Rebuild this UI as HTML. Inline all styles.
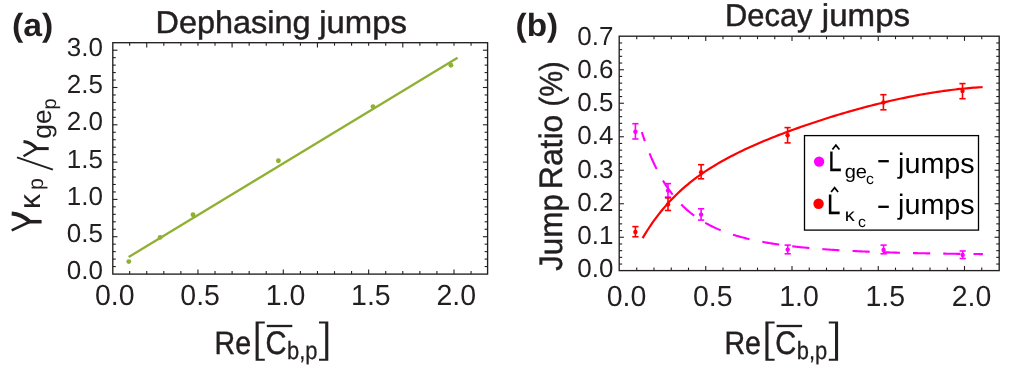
<!DOCTYPE html>
<html><head><meta charset="utf-8"><title>Jumps</title>
<style>
html,body{margin:0;padding:0;background:#fff;}
svg{display:block;font-family:"Liberation Sans", sans-serif;will-change:transform;text-rendering:geometricPrecision;}
</style></head>
<body>
<svg width="1017" height="369" viewBox="0 0 1017 369">
<rect width="1017" height="369" fill="#ffffff"/>
<rect x="112.80" y="42.70" width="374.80" height="231.40" fill="none" stroke="#231f20" stroke-width="1.35"/>
<line x1="129.67" y1="274.10" x2="129.67" y2="271.12" stroke="#231f20" stroke-width="1.1" />
<line x1="146.74" y1="274.10" x2="146.74" y2="271.12" stroke="#231f20" stroke-width="1.1" />
<line x1="163.81" y1="274.10" x2="163.81" y2="271.12" stroke="#231f20" stroke-width="1.1" />
<line x1="180.88" y1="274.10" x2="180.88" y2="271.12" stroke="#231f20" stroke-width="1.1" />
<line x1="197.95" y1="274.10" x2="197.95" y2="269.43" stroke="#231f20" stroke-width="1.1" />
<line x1="215.02" y1="274.10" x2="215.02" y2="271.12" stroke="#231f20" stroke-width="1.1" />
<line x1="232.09" y1="274.10" x2="232.09" y2="271.12" stroke="#231f20" stroke-width="1.1" />
<line x1="249.16" y1="274.10" x2="249.16" y2="271.12" stroke="#231f20" stroke-width="1.1" />
<line x1="266.23" y1="274.10" x2="266.23" y2="271.12" stroke="#231f20" stroke-width="1.1" />
<line x1="283.30" y1="274.10" x2="283.30" y2="269.43" stroke="#231f20" stroke-width="1.1" />
<line x1="300.37" y1="274.10" x2="300.37" y2="271.12" stroke="#231f20" stroke-width="1.1" />
<line x1="317.44" y1="274.10" x2="317.44" y2="271.12" stroke="#231f20" stroke-width="1.1" />
<line x1="334.51" y1="274.10" x2="334.51" y2="271.12" stroke="#231f20" stroke-width="1.1" />
<line x1="351.58" y1="274.10" x2="351.58" y2="271.12" stroke="#231f20" stroke-width="1.1" />
<line x1="368.65" y1="274.10" x2="368.65" y2="269.43" stroke="#231f20" stroke-width="1.1" />
<line x1="385.72" y1="274.10" x2="385.72" y2="271.12" stroke="#231f20" stroke-width="1.1" />
<line x1="402.79" y1="274.10" x2="402.79" y2="271.12" stroke="#231f20" stroke-width="1.1" />
<line x1="419.86" y1="274.10" x2="419.86" y2="271.12" stroke="#231f20" stroke-width="1.1" />
<line x1="436.93" y1="274.10" x2="436.93" y2="271.12" stroke="#231f20" stroke-width="1.1" />
<line x1="454.00" y1="274.10" x2="454.00" y2="269.43" stroke="#231f20" stroke-width="1.1" />
<line x1="471.07" y1="274.10" x2="471.07" y2="271.12" stroke="#231f20" stroke-width="1.1" />
<line x1="129.67" y1="42.70" x2="129.67" y2="45.67" stroke="#231f20" stroke-width="1.1" />
<line x1="146.74" y1="42.70" x2="146.74" y2="47.38" stroke="#231f20" stroke-width="1.1" />
<line x1="163.81" y1="42.70" x2="163.81" y2="45.67" stroke="#231f20" stroke-width="1.1" />
<line x1="180.88" y1="42.70" x2="180.88" y2="45.67" stroke="#231f20" stroke-width="1.1" />
<line x1="197.95" y1="42.70" x2="197.95" y2="45.67" stroke="#231f20" stroke-width="1.1" />
<line x1="215.02" y1="42.70" x2="215.02" y2="45.67" stroke="#231f20" stroke-width="1.1" />
<line x1="232.09" y1="42.70" x2="232.09" y2="47.38" stroke="#231f20" stroke-width="1.1" />
<line x1="249.16" y1="42.70" x2="249.16" y2="45.67" stroke="#231f20" stroke-width="1.1" />
<line x1="266.23" y1="42.70" x2="266.23" y2="45.67" stroke="#231f20" stroke-width="1.1" />
<line x1="283.30" y1="42.70" x2="283.30" y2="45.67" stroke="#231f20" stroke-width="1.1" />
<line x1="300.37" y1="42.70" x2="300.37" y2="45.67" stroke="#231f20" stroke-width="1.1" />
<line x1="317.44" y1="42.70" x2="317.44" y2="47.38" stroke="#231f20" stroke-width="1.1" />
<line x1="334.51" y1="42.70" x2="334.51" y2="45.67" stroke="#231f20" stroke-width="1.1" />
<line x1="351.58" y1="42.70" x2="351.58" y2="45.67" stroke="#231f20" stroke-width="1.1" />
<line x1="368.65" y1="42.70" x2="368.65" y2="45.67" stroke="#231f20" stroke-width="1.1" />
<line x1="385.72" y1="42.70" x2="385.72" y2="45.67" stroke="#231f20" stroke-width="1.1" />
<line x1="402.79" y1="42.70" x2="402.79" y2="47.38" stroke="#231f20" stroke-width="1.1" />
<line x1="419.86" y1="42.70" x2="419.86" y2="45.67" stroke="#231f20" stroke-width="1.1" />
<line x1="436.93" y1="42.70" x2="436.93" y2="45.67" stroke="#231f20" stroke-width="1.1" />
<line x1="454.00" y1="42.70" x2="454.00" y2="45.67" stroke="#231f20" stroke-width="1.1" />
<line x1="471.07" y1="42.70" x2="471.07" y2="45.67" stroke="#231f20" stroke-width="1.1" />
<line x1="112.80" y1="266.54" x2="115.77" y2="266.54" stroke="#231f20" stroke-width="1.1" />
<line x1="487.60" y1="266.54" x2="484.62" y2="266.54" stroke="#231f20" stroke-width="1.1" />
<line x1="112.80" y1="259.08" x2="115.77" y2="259.08" stroke="#231f20" stroke-width="1.1" />
<line x1="487.60" y1="259.08" x2="484.62" y2="259.08" stroke="#231f20" stroke-width="1.1" />
<line x1="112.80" y1="251.62" x2="115.77" y2="251.62" stroke="#231f20" stroke-width="1.1" />
<line x1="487.60" y1="251.62" x2="484.62" y2="251.62" stroke="#231f20" stroke-width="1.1" />
<line x1="112.80" y1="244.16" x2="115.77" y2="244.16" stroke="#231f20" stroke-width="1.1" />
<line x1="487.60" y1="244.16" x2="484.62" y2="244.16" stroke="#231f20" stroke-width="1.1" />
<line x1="112.80" y1="236.70" x2="117.47" y2="236.70" stroke="#231f20" stroke-width="1.1" />
<line x1="487.60" y1="236.70" x2="482.93" y2="236.70" stroke="#231f20" stroke-width="1.1" />
<line x1="112.80" y1="229.24" x2="115.77" y2="229.24" stroke="#231f20" stroke-width="1.1" />
<line x1="487.60" y1="229.24" x2="484.62" y2="229.24" stroke="#231f20" stroke-width="1.1" />
<line x1="112.80" y1="221.78" x2="115.77" y2="221.78" stroke="#231f20" stroke-width="1.1" />
<line x1="487.60" y1="221.78" x2="484.62" y2="221.78" stroke="#231f20" stroke-width="1.1" />
<line x1="112.80" y1="214.32" x2="115.77" y2="214.32" stroke="#231f20" stroke-width="1.1" />
<line x1="487.60" y1="214.32" x2="484.62" y2="214.32" stroke="#231f20" stroke-width="1.1" />
<line x1="112.80" y1="206.86" x2="115.77" y2="206.86" stroke="#231f20" stroke-width="1.1" />
<line x1="487.60" y1="206.86" x2="484.62" y2="206.86" stroke="#231f20" stroke-width="1.1" />
<line x1="112.80" y1="199.40" x2="117.47" y2="199.40" stroke="#231f20" stroke-width="1.1" />
<line x1="487.60" y1="199.40" x2="482.93" y2="199.40" stroke="#231f20" stroke-width="1.1" />
<line x1="112.80" y1="191.94" x2="115.77" y2="191.94" stroke="#231f20" stroke-width="1.1" />
<line x1="487.60" y1="191.94" x2="484.62" y2="191.94" stroke="#231f20" stroke-width="1.1" />
<line x1="112.80" y1="184.48" x2="115.77" y2="184.48" stroke="#231f20" stroke-width="1.1" />
<line x1="487.60" y1="184.48" x2="484.62" y2="184.48" stroke="#231f20" stroke-width="1.1" />
<line x1="112.80" y1="177.02" x2="115.77" y2="177.02" stroke="#231f20" stroke-width="1.1" />
<line x1="487.60" y1="177.02" x2="484.62" y2="177.02" stroke="#231f20" stroke-width="1.1" />
<line x1="112.80" y1="169.56" x2="115.77" y2="169.56" stroke="#231f20" stroke-width="1.1" />
<line x1="487.60" y1="169.56" x2="484.62" y2="169.56" stroke="#231f20" stroke-width="1.1" />
<line x1="112.80" y1="162.10" x2="117.47" y2="162.10" stroke="#231f20" stroke-width="1.1" />
<line x1="487.60" y1="162.10" x2="482.93" y2="162.10" stroke="#231f20" stroke-width="1.1" />
<line x1="112.80" y1="154.64" x2="115.77" y2="154.64" stroke="#231f20" stroke-width="1.1" />
<line x1="487.60" y1="154.64" x2="484.62" y2="154.64" stroke="#231f20" stroke-width="1.1" />
<line x1="112.80" y1="147.18" x2="115.77" y2="147.18" stroke="#231f20" stroke-width="1.1" />
<line x1="487.60" y1="147.18" x2="484.62" y2="147.18" stroke="#231f20" stroke-width="1.1" />
<line x1="112.80" y1="139.72" x2="115.77" y2="139.72" stroke="#231f20" stroke-width="1.1" />
<line x1="487.60" y1="139.72" x2="484.62" y2="139.72" stroke="#231f20" stroke-width="1.1" />
<line x1="112.80" y1="132.26" x2="115.77" y2="132.26" stroke="#231f20" stroke-width="1.1" />
<line x1="487.60" y1="132.26" x2="484.62" y2="132.26" stroke="#231f20" stroke-width="1.1" />
<line x1="112.80" y1="124.80" x2="117.47" y2="124.80" stroke="#231f20" stroke-width="1.1" />
<line x1="487.60" y1="124.80" x2="482.93" y2="124.80" stroke="#231f20" stroke-width="1.1" />
<line x1="112.80" y1="117.34" x2="115.77" y2="117.34" stroke="#231f20" stroke-width="1.1" />
<line x1="487.60" y1="117.34" x2="484.62" y2="117.34" stroke="#231f20" stroke-width="1.1" />
<line x1="112.80" y1="109.88" x2="115.77" y2="109.88" stroke="#231f20" stroke-width="1.1" />
<line x1="487.60" y1="109.88" x2="484.62" y2="109.88" stroke="#231f20" stroke-width="1.1" />
<line x1="112.80" y1="102.42" x2="115.77" y2="102.42" stroke="#231f20" stroke-width="1.1" />
<line x1="487.60" y1="102.42" x2="484.62" y2="102.42" stroke="#231f20" stroke-width="1.1" />
<line x1="112.80" y1="94.96" x2="115.77" y2="94.96" stroke="#231f20" stroke-width="1.1" />
<line x1="487.60" y1="94.96" x2="484.62" y2="94.96" stroke="#231f20" stroke-width="1.1" />
<line x1="112.80" y1="87.50" x2="117.47" y2="87.50" stroke="#231f20" stroke-width="1.1" />
<line x1="487.60" y1="87.50" x2="482.93" y2="87.50" stroke="#231f20" stroke-width="1.1" />
<line x1="112.80" y1="80.04" x2="115.77" y2="80.04" stroke="#231f20" stroke-width="1.1" />
<line x1="487.60" y1="80.04" x2="484.62" y2="80.04" stroke="#231f20" stroke-width="1.1" />
<line x1="112.80" y1="72.58" x2="115.77" y2="72.58" stroke="#231f20" stroke-width="1.1" />
<line x1="487.60" y1="72.58" x2="484.62" y2="72.58" stroke="#231f20" stroke-width="1.1" />
<line x1="112.80" y1="65.12" x2="115.77" y2="65.12" stroke="#231f20" stroke-width="1.1" />
<line x1="487.60" y1="65.12" x2="484.62" y2="65.12" stroke="#231f20" stroke-width="1.1" />
<line x1="112.80" y1="57.66" x2="115.77" y2="57.66" stroke="#231f20" stroke-width="1.1" />
<line x1="487.60" y1="57.66" x2="484.62" y2="57.66" stroke="#231f20" stroke-width="1.1" />
<line x1="112.80" y1="50.20" x2="117.47" y2="50.20" stroke="#231f20" stroke-width="1.1" />
<line x1="487.60" y1="50.20" x2="482.93" y2="50.20" stroke="#231f20" stroke-width="1.1" />
<text x="103.00" y="279.40" font-size="26" text-anchor="end" font-weight="normal" fill="#231f20" >0.0</text>
<text x="103.00" y="242.10" font-size="26" text-anchor="end" font-weight="normal" fill="#231f20" >0.5</text>
<text x="103.00" y="204.80" font-size="26" text-anchor="end" font-weight="normal" fill="#231f20" >1.0</text>
<text x="103.00" y="167.50" font-size="26" text-anchor="end" font-weight="normal" fill="#231f20" >1.5</text>
<text x="103.00" y="130.20" font-size="26" text-anchor="end" font-weight="normal" fill="#231f20" >2.0</text>
<text x="103.00" y="92.90" font-size="26" text-anchor="end" font-weight="normal" fill="#231f20" >2.5</text>
<text x="103.00" y="55.60" font-size="26" text-anchor="end" font-weight="normal" fill="#231f20" >3.0</text>
<text x="114.80" y="305.30" font-size="29" text-anchor="middle" font-weight="normal" fill="#231f20" textLength="39.6" lengthAdjust="spacingAndGlyphs" >0.0</text>
<text x="200.15" y="305.30" font-size="29" text-anchor="middle" font-weight="normal" fill="#231f20" textLength="39.6" lengthAdjust="spacingAndGlyphs" >0.5</text>
<text x="285.50" y="305.30" font-size="29" text-anchor="middle" font-weight="normal" fill="#231f20" textLength="39.6" lengthAdjust="spacingAndGlyphs" >1.0</text>
<text x="370.85" y="305.30" font-size="29" text-anchor="middle" font-weight="normal" fill="#231f20" textLength="39.6" lengthAdjust="spacingAndGlyphs" >1.5</text>
<text x="456.20" y="305.30" font-size="29" text-anchor="middle" font-weight="normal" fill="#231f20" textLength="39.6" lengthAdjust="spacingAndGlyphs" >2.0</text>
<line x1="128.60" y1="257.10" x2="457.60" y2="57.80" stroke="#8fb032" stroke-width="2.3" stroke-linecap="butt"/>
<circle cx="128.8" cy="261.6" r="2.45" fill="#8fb032"/>
<circle cx="160.1" cy="237.4" r="2.45" fill="#8fb032"/>
<circle cx="193.0" cy="214.8" r="2.45" fill="#8fb032"/>
<circle cx="278.4" cy="160.8" r="2.45" fill="#8fb032"/>
<circle cx="373.0" cy="106.6" r="2.45" fill="#8fb032"/>
<circle cx="450.9" cy="65.2" r="2.45" fill="#8fb032"/>
<text x="155.52" y="32.70" font-size="31.5" text-anchor="start" font-weight="normal" fill="#231f20" textLength="155.05" lengthAdjust="spacingAndGlyphs" stroke="#231f20" stroke-width="0.45">Dephasing</text>
<text x="319.22" y="32.70" font-size="31.5" text-anchor="start" font-weight="normal" fill="#231f20" textLength="87.73" lengthAdjust="spacingAndGlyphs" stroke="#231f20" stroke-width="0.45">jumps</text>
<text x="12.01" y="36.40" font-size="32" text-anchor="start" font-weight="bold" fill="#231f20" textLength="41.27" lengthAdjust="spacingAndGlyphs" >(a)</text>
<text x="214.60" y="353.60" font-size="32.5" text-anchor="start" font-weight="normal" fill="#231f20" textLength="36.5" lengthAdjust="spacingAndGlyphs" stroke="#231f20" stroke-width="0.45">Re</text>
<path d="M264.80,321.5 H255.60 V360.8 H264.80 V358.8 H258.70 V323.5 H264.80 Z" fill="#231f20"/>
<path d="M319.00,321.5 H328.30 V360.8 H319.00 V358.8 H325.20 V323.5 H319.00 Z" fill="#231f20"/>
<text x="265.40" y="353.60" font-size="32.5" text-anchor="start" font-weight="normal" fill="#231f20" textLength="21.0" lengthAdjust="spacingAndGlyphs" stroke="#231f20" stroke-width="0.45">C</text>
<line x1="266.80" y1="326.00" x2="292.30" y2="326.00" stroke="#231f20" stroke-width="2.3" />
<text x="287.00" y="359.30" font-size="25" text-anchor="start" font-weight="normal" fill="#231f20" textLength="30.5" lengthAdjust="spacingAndGlyphs" stroke="#231f20" stroke-width="0.3">b,p</text>
<path d="M11.7,213.5 Q21.80,214.30 29.70,221.7" fill="none" stroke="#231f20" stroke-width="3.8"/>
<path d="M11.7,230.4 L29.70,221.7" fill="none" stroke="#231f20" stroke-width="2.7"/>
<path d="M27.90,221.7 L41.6,221.7" fill="none" stroke="#231f20" stroke-width="3.5"/>
<g transform="translate(40.10,209.10) rotate(-90)">
<text x="0.00" y="0.00" font-size="30" text-anchor="start" font-weight="normal" fill="#231f20" >κ</text>
</g>
<g transform="translate(42.70,190.00) rotate(-90)">
<text x="0.00" y="0.00" font-size="21.5" text-anchor="start" font-weight="normal" fill="#231f20" >p</text>
</g>
<line x1="52.90" y1="169.60" x2="17.00" y2="157.30" stroke="#231f20" stroke-width="1.9" />
<path d="M23.5,141.5 Q31.15,142.30 36.60,148.6" fill="none" stroke="#231f20" stroke-width="3.2"/>
<path d="M23.5,156.3 L36.60,148.6" fill="none" stroke="#231f20" stroke-width="2.3"/>
<path d="M34.80,148.6 L48.7,148.6" fill="none" stroke="#231f20" stroke-width="3.0"/>
<g transform="translate(51.00,138.70) rotate(-90)">
<text x="0.00" y="0.00" font-size="26.4" text-anchor="start" font-weight="normal" fill="#231f20" >ge</text>
</g>
<g transform="translate(55.70,109.50) rotate(-90)">
<text x="0.00" y="0.00" font-size="20" text-anchor="start" font-weight="normal" fill="#231f20" >p</text>
</g>
<rect x="619.20" y="36.20" width="380.00" height="234.40" fill="none" stroke="#231f20" stroke-width="1.35"/>
<line x1="636.75" y1="270.60" x2="636.75" y2="267.62" stroke="#231f20" stroke-width="1.1" />
<line x1="654.00" y1="270.60" x2="654.00" y2="267.62" stroke="#231f20" stroke-width="1.1" />
<line x1="671.25" y1="270.60" x2="671.25" y2="267.62" stroke="#231f20" stroke-width="1.1" />
<line x1="688.50" y1="270.60" x2="688.50" y2="267.62" stroke="#231f20" stroke-width="1.1" />
<line x1="705.75" y1="270.60" x2="705.75" y2="265.93" stroke="#231f20" stroke-width="1.1" />
<line x1="723.00" y1="270.60" x2="723.00" y2="267.62" stroke="#231f20" stroke-width="1.1" />
<line x1="740.25" y1="270.60" x2="740.25" y2="267.62" stroke="#231f20" stroke-width="1.1" />
<line x1="757.50" y1="270.60" x2="757.50" y2="267.62" stroke="#231f20" stroke-width="1.1" />
<line x1="774.75" y1="270.60" x2="774.75" y2="267.62" stroke="#231f20" stroke-width="1.1" />
<line x1="792.00" y1="270.60" x2="792.00" y2="265.93" stroke="#231f20" stroke-width="1.1" />
<line x1="809.25" y1="270.60" x2="809.25" y2="267.62" stroke="#231f20" stroke-width="1.1" />
<line x1="826.50" y1="270.60" x2="826.50" y2="267.62" stroke="#231f20" stroke-width="1.1" />
<line x1="843.75" y1="270.60" x2="843.75" y2="267.62" stroke="#231f20" stroke-width="1.1" />
<line x1="861.00" y1="270.60" x2="861.00" y2="267.62" stroke="#231f20" stroke-width="1.1" />
<line x1="878.25" y1="270.60" x2="878.25" y2="265.93" stroke="#231f20" stroke-width="1.1" />
<line x1="895.50" y1="270.60" x2="895.50" y2="267.62" stroke="#231f20" stroke-width="1.1" />
<line x1="912.75" y1="270.60" x2="912.75" y2="267.62" stroke="#231f20" stroke-width="1.1" />
<line x1="930.00" y1="270.60" x2="930.00" y2="267.62" stroke="#231f20" stroke-width="1.1" />
<line x1="947.25" y1="270.60" x2="947.25" y2="267.62" stroke="#231f20" stroke-width="1.1" />
<line x1="964.50" y1="270.60" x2="964.50" y2="265.93" stroke="#231f20" stroke-width="1.1" />
<line x1="981.75" y1="270.60" x2="981.75" y2="267.62" stroke="#231f20" stroke-width="1.1" />
<line x1="636.75" y1="36.20" x2="636.75" y2="39.17" stroke="#231f20" stroke-width="1.1" />
<line x1="654.00" y1="36.20" x2="654.00" y2="39.17" stroke="#231f20" stroke-width="1.1" />
<line x1="671.25" y1="36.20" x2="671.25" y2="39.17" stroke="#231f20" stroke-width="1.1" />
<line x1="688.50" y1="36.20" x2="688.50" y2="39.17" stroke="#231f20" stroke-width="1.1" />
<line x1="705.75" y1="36.20" x2="705.75" y2="40.88" stroke="#231f20" stroke-width="1.1" />
<line x1="723.00" y1="36.20" x2="723.00" y2="39.17" stroke="#231f20" stroke-width="1.1" />
<line x1="740.25" y1="36.20" x2="740.25" y2="39.17" stroke="#231f20" stroke-width="1.1" />
<line x1="757.50" y1="36.20" x2="757.50" y2="39.17" stroke="#231f20" stroke-width="1.1" />
<line x1="774.75" y1="36.20" x2="774.75" y2="39.17" stroke="#231f20" stroke-width="1.1" />
<line x1="792.00" y1="36.20" x2="792.00" y2="40.88" stroke="#231f20" stroke-width="1.1" />
<line x1="809.25" y1="36.20" x2="809.25" y2="39.17" stroke="#231f20" stroke-width="1.1" />
<line x1="826.50" y1="36.20" x2="826.50" y2="39.17" stroke="#231f20" stroke-width="1.1" />
<line x1="843.75" y1="36.20" x2="843.75" y2="39.17" stroke="#231f20" stroke-width="1.1" />
<line x1="861.00" y1="36.20" x2="861.00" y2="39.17" stroke="#231f20" stroke-width="1.1" />
<line x1="878.25" y1="36.20" x2="878.25" y2="40.88" stroke="#231f20" stroke-width="1.1" />
<line x1="895.50" y1="36.20" x2="895.50" y2="39.17" stroke="#231f20" stroke-width="1.1" />
<line x1="912.75" y1="36.20" x2="912.75" y2="39.17" stroke="#231f20" stroke-width="1.1" />
<line x1="930.00" y1="36.20" x2="930.00" y2="39.17" stroke="#231f20" stroke-width="1.1" />
<line x1="947.25" y1="36.20" x2="947.25" y2="39.17" stroke="#231f20" stroke-width="1.1" />
<line x1="964.50" y1="36.20" x2="964.50" y2="40.88" stroke="#231f20" stroke-width="1.1" />
<line x1="981.75" y1="36.20" x2="981.75" y2="39.17" stroke="#231f20" stroke-width="1.1" />
<line x1="619.20" y1="264.05" x2="622.17" y2="264.05" stroke="#231f20" stroke-width="1.1" />
<line x1="999.20" y1="264.05" x2="996.23" y2="264.05" stroke="#231f20" stroke-width="1.1" />
<line x1="619.20" y1="257.35" x2="622.17" y2="257.35" stroke="#231f20" stroke-width="1.1" />
<line x1="999.20" y1="257.35" x2="996.23" y2="257.35" stroke="#231f20" stroke-width="1.1" />
<line x1="619.20" y1="250.65" x2="622.17" y2="250.65" stroke="#231f20" stroke-width="1.1" />
<line x1="999.20" y1="250.65" x2="996.23" y2="250.65" stroke="#231f20" stroke-width="1.1" />
<line x1="619.20" y1="243.95" x2="622.17" y2="243.95" stroke="#231f20" stroke-width="1.1" />
<line x1="999.20" y1="243.95" x2="996.23" y2="243.95" stroke="#231f20" stroke-width="1.1" />
<line x1="619.20" y1="237.25" x2="623.88" y2="237.25" stroke="#231f20" stroke-width="1.1" />
<line x1="999.20" y1="237.25" x2="994.53" y2="237.25" stroke="#231f20" stroke-width="1.1" />
<line x1="619.20" y1="230.55" x2="622.17" y2="230.55" stroke="#231f20" stroke-width="1.1" />
<line x1="999.20" y1="230.55" x2="996.23" y2="230.55" stroke="#231f20" stroke-width="1.1" />
<line x1="619.20" y1="223.85" x2="622.17" y2="223.85" stroke="#231f20" stroke-width="1.1" />
<line x1="999.20" y1="223.85" x2="996.23" y2="223.85" stroke="#231f20" stroke-width="1.1" />
<line x1="619.20" y1="217.15" x2="622.17" y2="217.15" stroke="#231f20" stroke-width="1.1" />
<line x1="999.20" y1="217.15" x2="996.23" y2="217.15" stroke="#231f20" stroke-width="1.1" />
<line x1="619.20" y1="210.45" x2="622.17" y2="210.45" stroke="#231f20" stroke-width="1.1" />
<line x1="999.20" y1="210.45" x2="996.23" y2="210.45" stroke="#231f20" stroke-width="1.1" />
<line x1="619.20" y1="203.75" x2="623.88" y2="203.75" stroke="#231f20" stroke-width="1.1" />
<line x1="999.20" y1="203.75" x2="994.53" y2="203.75" stroke="#231f20" stroke-width="1.1" />
<line x1="619.20" y1="197.05" x2="622.17" y2="197.05" stroke="#231f20" stroke-width="1.1" />
<line x1="999.20" y1="197.05" x2="996.23" y2="197.05" stroke="#231f20" stroke-width="1.1" />
<line x1="619.20" y1="190.35" x2="622.17" y2="190.35" stroke="#231f20" stroke-width="1.1" />
<line x1="999.20" y1="190.35" x2="996.23" y2="190.35" stroke="#231f20" stroke-width="1.1" />
<line x1="619.20" y1="183.65" x2="622.17" y2="183.65" stroke="#231f20" stroke-width="1.1" />
<line x1="999.20" y1="183.65" x2="996.23" y2="183.65" stroke="#231f20" stroke-width="1.1" />
<line x1="619.20" y1="176.95" x2="622.17" y2="176.95" stroke="#231f20" stroke-width="1.1" />
<line x1="999.20" y1="176.95" x2="996.23" y2="176.95" stroke="#231f20" stroke-width="1.1" />
<line x1="619.20" y1="170.25" x2="623.88" y2="170.25" stroke="#231f20" stroke-width="1.1" />
<line x1="999.20" y1="170.25" x2="994.53" y2="170.25" stroke="#231f20" stroke-width="1.1" />
<line x1="619.20" y1="163.55" x2="622.17" y2="163.55" stroke="#231f20" stroke-width="1.1" />
<line x1="999.20" y1="163.55" x2="996.23" y2="163.55" stroke="#231f20" stroke-width="1.1" />
<line x1="619.20" y1="156.85" x2="622.17" y2="156.85" stroke="#231f20" stroke-width="1.1" />
<line x1="999.20" y1="156.85" x2="996.23" y2="156.85" stroke="#231f20" stroke-width="1.1" />
<line x1="619.20" y1="150.15" x2="622.17" y2="150.15" stroke="#231f20" stroke-width="1.1" />
<line x1="999.20" y1="150.15" x2="996.23" y2="150.15" stroke="#231f20" stroke-width="1.1" />
<line x1="619.20" y1="143.45" x2="622.17" y2="143.45" stroke="#231f20" stroke-width="1.1" />
<line x1="999.20" y1="143.45" x2="996.23" y2="143.45" stroke="#231f20" stroke-width="1.1" />
<line x1="619.20" y1="136.75" x2="623.88" y2="136.75" stroke="#231f20" stroke-width="1.1" />
<line x1="999.20" y1="136.75" x2="994.53" y2="136.75" stroke="#231f20" stroke-width="1.1" />
<line x1="619.20" y1="130.05" x2="622.17" y2="130.05" stroke="#231f20" stroke-width="1.1" />
<line x1="999.20" y1="130.05" x2="996.23" y2="130.05" stroke="#231f20" stroke-width="1.1" />
<line x1="619.20" y1="123.35" x2="622.17" y2="123.35" stroke="#231f20" stroke-width="1.1" />
<line x1="999.20" y1="123.35" x2="996.23" y2="123.35" stroke="#231f20" stroke-width="1.1" />
<line x1="619.20" y1="116.65" x2="622.17" y2="116.65" stroke="#231f20" stroke-width="1.1" />
<line x1="999.20" y1="116.65" x2="996.23" y2="116.65" stroke="#231f20" stroke-width="1.1" />
<line x1="619.20" y1="109.95" x2="622.17" y2="109.95" stroke="#231f20" stroke-width="1.1" />
<line x1="999.20" y1="109.95" x2="996.23" y2="109.95" stroke="#231f20" stroke-width="1.1" />
<line x1="619.20" y1="103.25" x2="623.88" y2="103.25" stroke="#231f20" stroke-width="1.1" />
<line x1="999.20" y1="103.25" x2="994.53" y2="103.25" stroke="#231f20" stroke-width="1.1" />
<line x1="619.20" y1="96.55" x2="622.17" y2="96.55" stroke="#231f20" stroke-width="1.1" />
<line x1="999.20" y1="96.55" x2="996.23" y2="96.55" stroke="#231f20" stroke-width="1.1" />
<line x1="619.20" y1="89.85" x2="622.17" y2="89.85" stroke="#231f20" stroke-width="1.1" />
<line x1="999.20" y1="89.85" x2="996.23" y2="89.85" stroke="#231f20" stroke-width="1.1" />
<line x1="619.20" y1="83.15" x2="622.17" y2="83.15" stroke="#231f20" stroke-width="1.1" />
<line x1="999.20" y1="83.15" x2="996.23" y2="83.15" stroke="#231f20" stroke-width="1.1" />
<line x1="619.20" y1="76.45" x2="622.17" y2="76.45" stroke="#231f20" stroke-width="1.1" />
<line x1="999.20" y1="76.45" x2="996.23" y2="76.45" stroke="#231f20" stroke-width="1.1" />
<line x1="619.20" y1="69.75" x2="623.88" y2="69.75" stroke="#231f20" stroke-width="1.1" />
<line x1="999.20" y1="69.75" x2="994.53" y2="69.75" stroke="#231f20" stroke-width="1.1" />
<line x1="619.20" y1="63.05" x2="622.17" y2="63.05" stroke="#231f20" stroke-width="1.1" />
<line x1="999.20" y1="63.05" x2="996.23" y2="63.05" stroke="#231f20" stroke-width="1.1" />
<line x1="619.20" y1="56.35" x2="622.17" y2="56.35" stroke="#231f20" stroke-width="1.1" />
<line x1="999.20" y1="56.35" x2="996.23" y2="56.35" stroke="#231f20" stroke-width="1.1" />
<line x1="619.20" y1="49.65" x2="622.17" y2="49.65" stroke="#231f20" stroke-width="1.1" />
<line x1="999.20" y1="49.65" x2="996.23" y2="49.65" stroke="#231f20" stroke-width="1.1" />
<line x1="619.20" y1="42.95" x2="622.17" y2="42.95" stroke="#231f20" stroke-width="1.1" />
<line x1="999.20" y1="42.95" x2="996.23" y2="42.95" stroke="#231f20" stroke-width="1.1" />
<text x="613.50" y="276.60" font-size="26" text-anchor="end" font-weight="normal" fill="#231f20" >0.0</text>
<text x="613.50" y="243.57" font-size="26" text-anchor="end" font-weight="normal" fill="#231f20" >0.1</text>
<text x="613.50" y="210.54" font-size="26" text-anchor="end" font-weight="normal" fill="#231f20" >0.2</text>
<text x="613.50" y="177.51" font-size="26" text-anchor="end" font-weight="normal" fill="#231f20" >0.3</text>
<text x="613.50" y="144.48" font-size="26" text-anchor="end" font-weight="normal" fill="#231f20" >0.4</text>
<text x="613.50" y="111.45" font-size="26" text-anchor="end" font-weight="normal" fill="#231f20" >0.5</text>
<text x="613.50" y="78.42" font-size="26" text-anchor="end" font-weight="normal" fill="#231f20" >0.6</text>
<text x="613.50" y="45.39" font-size="26" text-anchor="end" font-weight="normal" fill="#231f20" >0.7</text>
<text x="626.50" y="305.50" font-size="29" text-anchor="middle" font-weight="normal" fill="#231f20" textLength="39.6" lengthAdjust="spacingAndGlyphs" >0.0</text>
<text x="712.75" y="305.50" font-size="29" text-anchor="middle" font-weight="normal" fill="#231f20" textLength="39.6" lengthAdjust="spacingAndGlyphs" >0.5</text>
<text x="799.00" y="305.50" font-size="29" text-anchor="middle" font-weight="normal" fill="#231f20" textLength="39.6" lengthAdjust="spacingAndGlyphs" >1.0</text>
<text x="885.25" y="305.50" font-size="29" text-anchor="middle" font-weight="normal" fill="#231f20" textLength="39.6" lengthAdjust="spacingAndGlyphs" >1.5</text>
<text x="971.50" y="305.50" font-size="29" text-anchor="middle" font-weight="normal" fill="#231f20" textLength="39.6" lengthAdjust="spacingAndGlyphs" >2.0</text>
<path d="M642.60,238.12 L644.87,234.35 L647.13,230.73 L649.40,227.26 L651.67,223.92 L653.93,220.71 L656.20,217.63 L658.47,214.66 L660.73,211.80 L663.00,209.04 L665.27,206.38 L667.53,203.82 L669.80,201.35 L672.07,198.96 L674.33,196.65 L676.60,194.42 L678.87,192.27 L681.13,190.18 L683.40,188.16 L685.67,186.20 L687.93,184.30 L690.20,182.46 L692.47,180.67 L694.73,178.93 L697.00,177.24 L699.27,175.59 L701.53,173.99 L703.80,172.43 L706.07,170.91 L708.33,169.43 L710.60,167.99 L712.87,166.57 L715.13,165.19 L717.40,163.85 L719.67,162.53 L721.93,161.23 L724.20,159.97 L726.47,158.73 L728.73,157.52 L731.00,156.32 L733.27,155.15 L735.53,154.00 L737.80,152.87 L740.07,151.76 L742.33,150.67 L744.60,149.60 L746.87,148.54 L749.13,147.50 L751.40,146.47 L753.67,145.46 L755.93,144.46 L758.20,143.48 L760.47,142.51 L762.73,141.55 L765.00,140.60 L767.27,139.67 L769.53,138.74 L771.80,137.83 L774.07,136.93 L776.33,136.03 L778.60,135.15 L780.87,134.28 L783.13,133.41 L785.40,132.56 L787.67,131.71 L789.93,130.87 L792.20,130.04 L794.47,129.22 L796.73,128.41 L799.00,127.60 L801.27,126.80 L803.53,126.01 L805.80,125.23 L808.07,124.45 L810.33,123.68 L812.60,122.92 L814.87,122.17 L817.13,121.42 L819.40,120.68 L821.67,119.94 L823.93,119.21 L826.20,118.49 L828.47,117.78 L830.73,117.07 L833.00,116.37 L835.27,115.67 L837.53,114.99 L839.80,114.30 L842.07,113.63 L844.33,112.96 L846.60,112.30 L848.87,111.65 L851.13,111.00 L853.40,110.36 L855.67,109.72 L857.93,109.09 L860.20,108.47 L862.47,107.86 L864.73,107.25 L867.00,106.65 L869.27,106.06 L871.53,105.47 L873.80,104.89 L876.07,104.32 L878.33,103.76 L880.60,103.20 L882.87,102.65 L885.13,102.11 L887.40,101.57 L889.67,101.05 L891.93,100.53 L894.20,100.02 L896.47,99.51 L898.73,99.02 L901.00,98.53 L903.27,98.05 L905.53,97.58 L907.80,97.11 L910.07,96.66 L912.33,96.21 L914.60,95.78 L916.87,95.35 L919.13,94.93 L921.40,94.52 L923.67,94.11 L925.93,93.72 L928.20,93.34 L930.47,92.96 L932.73,92.59 L935.00,92.24 L937.27,91.89 L939.53,91.55 L941.80,91.23 L944.07,90.91 L946.33,90.60 L948.60,90.30 L950.87,90.01 L953.13,89.74 L955.40,89.47 L957.67,89.21 L959.93,88.96 L962.20,88.73 L964.47,88.50 L966.73,88.29 L969.00,88.09 L971.27,87.89 L973.53,87.71 L975.80,87.54 L978.07,87.38 L980.33,87.23 L982.60,87.10" fill="none" stroke="#ff0000" stroke-width="2.2" stroke-linejoin="round"/>
<path d="M641.79,132.11 L642.93,135.54 L644.06,138.87 L645.20,142.08 L646.34,145.18 L647.48,148.18 L648.61,151.08 L649.75,153.89 L650.89,156.60 L652.02,159.23 L653.16,161.77 L654.30,164.22 L655.43,166.60 L656.57,168.90 L657.71,171.13 L658.85,173.29 L659.98,175.37 L661.12,177.40 L662.26,179.35 L663.39,181.25 L664.53,183.09 L665.67,184.87 L666.80,186.59 L667.94,188.26 L669.08,189.88 L670.22,191.45 L671.35,192.98 L672.49,194.45 L673.63,195.89 L674.76,197.28 L675.90,198.62 L677.04,199.93 L678.18,201.20 L679.31,202.44 L680.45,203.63 L681.59,204.79 L682.72,205.92 L683.86,207.02 L685.00,208.08 L686.13,209.12 L687.27,210.12 L688.41,211.10 L689.55,212.05 L690.68,212.98 L691.82,213.87 L692.96,214.75 L694.09,215.60 L695.23,216.42 L696.37,217.23 L697.50,218.01 L698.64,218.77 L699.78,219.52 L700.92,220.24 L702.05,220.94 L703.19,221.63 L704.33,222.30 L705.46,222.95 L706.60,223.58 L707.74,224.20 L708.87,224.80 L710.01,225.39 L711.15,225.96 L712.29,226.52 L713.42,227.06 L714.56,227.60 L715.70,228.11 L716.83,228.62 L717.97,229.12 L719.11,229.60 L720.25,230.07 L721.38,230.53 L722.52,230.98 L723.66,231.42 L724.79,231.85 L725.93,232.26 L727.07,232.67 L728.20,233.07 L729.34,233.47 L730.48,233.85 L731.62,234.22 L732.75,234.59 L733.89,234.95 L735.03,235.30 L736.16,235.64 L737.30,235.97 L738.44,236.30 L739.57,236.62 L740.71,236.94 L741.85,237.24 L742.99,237.55 L744.12,237.84 L745.26,238.13 L746.40,238.41 L747.53,238.69 L748.67,238.96 L749.81,239.23 L750.95,239.49 L752.08,239.74 L753.22,239.99 L754.36,240.24 L755.49,240.48 L756.63,240.72 L757.77,240.95 L758.90,241.17 L760.04,241.40 L761.18,241.62 L762.32,241.83 L763.45,242.04 L764.59,242.25 L765.73,242.45 L766.86,242.65 L768.00,242.84 L769.14,243.03 L770.27,243.22 L771.41,243.41 L772.55,243.59 L773.69,243.77 L774.82,243.94 L775.96,244.11 L777.10,244.28 L778.23,244.45 L779.37,244.61 L780.51,244.77 L781.65,244.93 L782.78,245.08 L783.92,245.23 L785.06,245.38 L786.19,245.53 L787.33,245.67 L788.47,245.81 L789.60,245.95 L790.74,246.09 L791.88,246.22 L793.02,246.35 L794.15,246.48 L795.29,246.61 L796.43,246.74 L797.56,246.86 L798.70,246.98 L799.84,247.10 L800.97,247.22 L802.11,247.33 L803.25,247.45 L804.39,247.56 L805.52,247.67 L806.66,247.78 L807.80,247.88 L808.93,247.99 L810.07,248.09 L811.21,248.19 L812.35,248.29 L813.48,248.39 L814.62,248.49 L815.76,248.58 L816.89,248.67 L818.03,248.77 L819.17,248.86 L820.30,248.95 L821.44,249.03 L822.58,249.12 L823.72,249.21 L824.85,249.29 L825.99,249.37 L827.13,249.45 L828.26,249.53 L829.40,249.61 L830.54,249.69 L831.67,249.76 L832.81,249.84 L833.95,249.91 L835.09,249.99 L836.22,250.06 L837.36,250.13 L838.50,250.20 L839.63,250.27 L840.77,250.33 L841.91,250.40 L843.04,250.46 L844.18,250.53 L845.32,250.59 L846.46,250.65 L847.59,250.72 L848.73,250.78 L849.87,250.84 L851.00,250.89 L852.14,250.95 L853.28,251.01 L854.42,251.06 L855.55,251.12 L856.69,251.17 L857.83,251.23 L858.96,251.28 L860.10,251.33 L861.24,251.38 L862.37,251.43 L863.51,251.48 L864.65,251.53 L865.79,251.58 L866.92,251.63 L868.06,251.67 L869.20,251.72 L870.33,251.77 L871.47,251.81 L872.61,251.86 L873.74,251.90 L874.88,251.94 L876.02,251.98 L877.16,252.03 L878.29,252.07 L879.43,252.11 L880.57,252.15 L881.70,252.19 L882.84,252.22 L883.98,252.26 L885.12,252.30 L886.25,252.34 L887.39,252.37 L888.53,252.41 L889.66,252.44 L890.80,252.48 L891.94,252.51 L893.07,252.55 L894.21,252.58 L895.35,252.61 L896.49,252.64 L897.62,252.68 L898.76,252.71 L899.90,252.74 L901.03,252.77 L902.17,252.80 L903.31,252.83 L904.44,252.86 L905.58,252.89 L906.72,252.91 L907.86,252.94 L908.99,252.97 L910.13,253.00 L911.27,253.02 L912.40,253.05 L913.54,253.08 L914.68,253.10 L915.82,253.13 L916.95,253.15 L918.09,253.18 L919.23,253.20 L920.36,253.22 L921.50,253.25 L922.64,253.27 L923.77,253.29 L924.91,253.32 L926.05,253.34 L927.19,253.36 L928.32,253.38 L929.46,253.40 L930.60,253.42 L931.73,253.44 L932.87,253.46 L934.01,253.48 L935.14,253.50 L936.28,253.52 L937.42,253.54 L938.56,253.56 L939.69,253.58 L940.83,253.60 L941.97,253.62 L943.10,253.63 L944.24,253.65 L945.38,253.67 L946.51,253.69 L947.65,253.70 L948.79,253.72 L949.93,253.73 L951.06,253.75 L952.20,253.77 L953.34,253.78 L954.47,253.80 L955.61,253.81 L956.75,253.83 L957.89,253.84 L959.02,253.86 L960.16,253.87 L961.30,253.89 L962.43,253.90 L963.57,253.91 L964.71,253.93 L965.84,253.94 L966.98,253.95 L968.12,253.97 L969.26,253.98 L970.39,253.99 L971.53,254.00 L972.67,254.02 L973.80,254.03 L974.94,254.04 L976.08,254.05 L977.21,254.06 L978.35,254.07 L979.49,254.08 L980.63,254.10 L981.76,254.11 L982.90,254.12" fill="none" stroke="#ff00ff" stroke-width="2.1" stroke-dasharray="17.2,13.05" stroke-dashoffset="7.6" stroke-linejoin="round"/>
<line x1="635.40" y1="123.70" x2="635.40" y2="139.00" stroke="#ff00ff" stroke-width="1.6" />
<line x1="632.30" y1="123.70" x2="638.50" y2="123.70" stroke="#ff00ff" stroke-width="1.6" />
<line x1="632.30" y1="139.00" x2="638.50" y2="139.00" stroke="#ff00ff" stroke-width="1.6" />
<circle cx="635.4" cy="131.7" r="2.2" fill="#ff00ff"/>
<line x1="668.00" y1="183.60" x2="668.00" y2="197.10" stroke="#ff00ff" stroke-width="1.6" />
<line x1="664.90" y1="183.60" x2="671.10" y2="183.60" stroke="#ff00ff" stroke-width="1.6" />
<line x1="664.90" y1="197.10" x2="671.10" y2="197.10" stroke="#ff00ff" stroke-width="1.6" />
<circle cx="668.0" cy="190.6" r="2.2" fill="#ff00ff"/>
<line x1="701.10" y1="208.80" x2="701.10" y2="220.10" stroke="#ff00ff" stroke-width="1.6" />
<line x1="698.00" y1="208.80" x2="704.20" y2="208.80" stroke="#ff00ff" stroke-width="1.6" />
<line x1="698.00" y1="220.10" x2="704.20" y2="220.10" stroke="#ff00ff" stroke-width="1.6" />
<circle cx="701.1" cy="214.6" r="2.2" fill="#ff00ff"/>
<line x1="787.70" y1="245.10" x2="787.70" y2="253.80" stroke="#ff00ff" stroke-width="1.6" />
<line x1="784.60" y1="245.10" x2="790.80" y2="245.10" stroke="#ff00ff" stroke-width="1.6" />
<line x1="784.60" y1="253.80" x2="790.80" y2="253.80" stroke="#ff00ff" stroke-width="1.6" />
<circle cx="787.7" cy="249.6" r="2.2" fill="#ff00ff"/>
<line x1="883.60" y1="245.10" x2="883.60" y2="253.80" stroke="#ff00ff" stroke-width="1.6" />
<line x1="880.50" y1="245.10" x2="886.70" y2="245.10" stroke="#ff00ff" stroke-width="1.6" />
<line x1="880.50" y1="253.80" x2="886.70" y2="253.80" stroke="#ff00ff" stroke-width="1.6" />
<circle cx="883.6" cy="249.9" r="2.2" fill="#ff00ff"/>
<line x1="962.70" y1="251.00" x2="962.70" y2="258.50" stroke="#ff00ff" stroke-width="1.6" />
<line x1="959.60" y1="251.00" x2="965.80" y2="251.00" stroke="#ff00ff" stroke-width="1.6" />
<line x1="959.60" y1="258.50" x2="965.80" y2="258.50" stroke="#ff00ff" stroke-width="1.6" />
<circle cx="962.7" cy="254.9" r="2.2" fill="#ff00ff"/>
<line x1="635.40" y1="226.60" x2="635.40" y2="236.80" stroke="#ff0000" stroke-width="1.6" />
<line x1="632.30" y1="226.60" x2="638.50" y2="226.60" stroke="#ff0000" stroke-width="1.6" />
<line x1="632.30" y1="236.80" x2="638.50" y2="236.80" stroke="#ff0000" stroke-width="1.6" />
<circle cx="635.4" cy="232.0" r="2.2" fill="#ff0000"/>
<line x1="668.00" y1="197.90" x2="668.00" y2="210.50" stroke="#ff0000" stroke-width="1.6" />
<line x1="664.90" y1="197.90" x2="671.10" y2="197.90" stroke="#ff0000" stroke-width="1.6" />
<line x1="664.90" y1="210.50" x2="671.10" y2="210.50" stroke="#ff0000" stroke-width="1.6" />
<circle cx="668.0" cy="204.4" r="2.2" fill="#ff0000"/>
<line x1="701.10" y1="164.70" x2="701.10" y2="178.80" stroke="#ff0000" stroke-width="1.6" />
<line x1="698.00" y1="164.70" x2="704.20" y2="164.70" stroke="#ff0000" stroke-width="1.6" />
<line x1="698.00" y1="178.80" x2="704.20" y2="178.80" stroke="#ff0000" stroke-width="1.6" />
<circle cx="701.1" cy="172.3" r="2.2" fill="#ff0000"/>
<line x1="787.60" y1="127.60" x2="787.60" y2="142.90" stroke="#ff0000" stroke-width="1.6" />
<line x1="784.50" y1="127.60" x2="790.70" y2="127.60" stroke="#ff0000" stroke-width="1.6" />
<line x1="784.50" y1="142.90" x2="790.70" y2="142.90" stroke="#ff0000" stroke-width="1.6" />
<circle cx="787.6" cy="135.3" r="2.2" fill="#ff0000"/>
<line x1="883.40" y1="94.70" x2="883.40" y2="109.80" stroke="#ff0000" stroke-width="1.6" />
<line x1="880.30" y1="94.70" x2="886.50" y2="94.70" stroke="#ff0000" stroke-width="1.6" />
<line x1="880.30" y1="109.80" x2="886.50" y2="109.80" stroke="#ff0000" stroke-width="1.6" />
<circle cx="883.4" cy="102.4" r="2.2" fill="#ff0000"/>
<line x1="962.50" y1="83.60" x2="962.50" y2="98.70" stroke="#ff0000" stroke-width="1.6" />
<line x1="959.40" y1="83.60" x2="965.60" y2="83.60" stroke="#ff0000" stroke-width="1.6" />
<line x1="959.40" y1="98.70" x2="965.60" y2="98.70" stroke="#ff0000" stroke-width="1.6" />
<circle cx="962.5" cy="90.9" r="2.2" fill="#ff0000"/>
<rect x="804.5" y="135.6" width="174.0" height="94.5" fill="#ffffff" stroke="#000" stroke-width="1.3"/>
<circle cx="819.10" cy="161.60" r="5.2" fill="#ff00ff"/>
<text x="828.21" y="171.00" font-size="28" text-anchor="start" font-weight="normal" fill="#000000" textLength="13.40" lengthAdjust="spacingAndGlyphs" stroke="#000000" stroke-width="0.25">L</text>
<path d="M832.40,149.50 L835.90,145.10 L839.40,149.50" fill="none" stroke="#000000" stroke-width="1.7"/>
<text x="844.65" y="177.70" font-size="19" text-anchor="start" font-weight="normal" fill="#000000" textLength="22.36" lengthAdjust="spacingAndGlyphs" >ge</text>
<text x="866.13" y="184.00" font-size="15.4" text-anchor="start" font-weight="normal" fill="#000000" textLength="7.91" lengthAdjust="spacingAndGlyphs" >c</text>
<line x1="878.30" y1="161.20" x2="888.80" y2="161.20" stroke="#000000" stroke-width="2.3" />
<text x="898.02" y="172.90" font-size="28.2" text-anchor="start" font-weight="normal" fill="#000000" textLength="76.69" lengthAdjust="spacingAndGlyphs" >jumps</text>
<circle cx="818.58" cy="203.80" r="5.2" fill="#ff0000"/>
<text x="826.91" y="213.50" font-size="28" text-anchor="start" font-weight="normal" fill="#000000" textLength="13.40" lengthAdjust="spacingAndGlyphs" stroke="#000000" stroke-width="0.25">L</text>
<path d="M831.10,192.00 L834.60,187.60 L838.10,192.00" fill="none" stroke="#000000" stroke-width="1.7"/>
<text x="844.66" y="221.00" font-size="18" text-anchor="start" font-weight="normal" fill="#000000" textLength="9.94" lengthAdjust="spacingAndGlyphs" >κ</text>
<text x="858.03" y="226.90" font-size="15.4" text-anchor="start" font-weight="normal" fill="#000000" textLength="7.91" lengthAdjust="spacingAndGlyphs" >c</text>
<line x1="878.30" y1="206.80" x2="888.80" y2="206.80" stroke="#000000" stroke-width="2.3" />
<text x="898.02" y="214.40" font-size="28.2" text-anchor="start" font-weight="normal" fill="#000000" textLength="76.69" lengthAdjust="spacingAndGlyphs" >jumps</text>
<text x="725.05" y="25.60" font-size="31.5" text-anchor="start" font-weight="normal" fill="#231f20" textLength="87.51" lengthAdjust="spacingAndGlyphs" stroke="#231f20" stroke-width="0.45">Decay</text>
<text x="821.83" y="25.60" font-size="31.5" text-anchor="start" font-weight="normal" fill="#231f20" textLength="88.33" lengthAdjust="spacingAndGlyphs" stroke="#231f20" stroke-width="0.45">jumps</text>
<text x="515.53" y="35.60" font-size="32" text-anchor="start" font-weight="bold" fill="#231f20" textLength="42.62" lengthAdjust="spacingAndGlyphs" >(b)</text>
<text x="724.40" y="353.60" font-size="32.5" text-anchor="start" font-weight="normal" fill="#231f20" textLength="36.5" lengthAdjust="spacingAndGlyphs" stroke="#231f20" stroke-width="0.45">Re</text>
<path d="M774.60,321.5 H765.40 V360.8 H774.60 V358.8 H768.50 V323.5 H774.60 Z" fill="#231f20"/>
<path d="M828.80,321.5 H838.10 V360.8 H828.80 V358.8 H835.00 V323.5 H828.80 Z" fill="#231f20"/>
<text x="775.20" y="353.60" font-size="32.5" text-anchor="start" font-weight="normal" fill="#231f20" textLength="21.0" lengthAdjust="spacingAndGlyphs" stroke="#231f20" stroke-width="0.45">C</text>
<line x1="776.60" y1="326.00" x2="802.10" y2="326.00" stroke="#231f20" stroke-width="2.3" />
<text x="796.80" y="359.30" font-size="25" text-anchor="start" font-weight="normal" fill="#231f20" textLength="30.5" lengthAdjust="spacingAndGlyphs" stroke="#231f20" stroke-width="0.3">b,p</text>
<g transform="translate(562.40,270.40) rotate(-90)">
<text x="-0.47" y="0.00" font-size="32.5" text-anchor="start" font-weight="normal" fill="#231f20" textLength="76.74" lengthAdjust="spacingAndGlyphs" stroke="#231f20" stroke-width="0.45">Jump</text>
</g>
<g transform="translate(562.40,186.50) rotate(-90)">
<text x="-2.63" y="0.00" font-size="32.5" text-anchor="start" font-weight="normal" fill="#231f20" textLength="74.37" lengthAdjust="spacingAndGlyphs" stroke="#231f20" stroke-width="0.45">Ratio</text>
</g>
<g transform="translate(562.40,104.70) rotate(-90)">
<text x="-1.82" y="0.00" font-size="32" text-anchor="start" font-weight="normal" fill="#231f20" textLength="45.27" lengthAdjust="spacingAndGlyphs" stroke="#231f20" stroke-width="0.45">(%)</text>
</g>
</svg>
</body></html>
